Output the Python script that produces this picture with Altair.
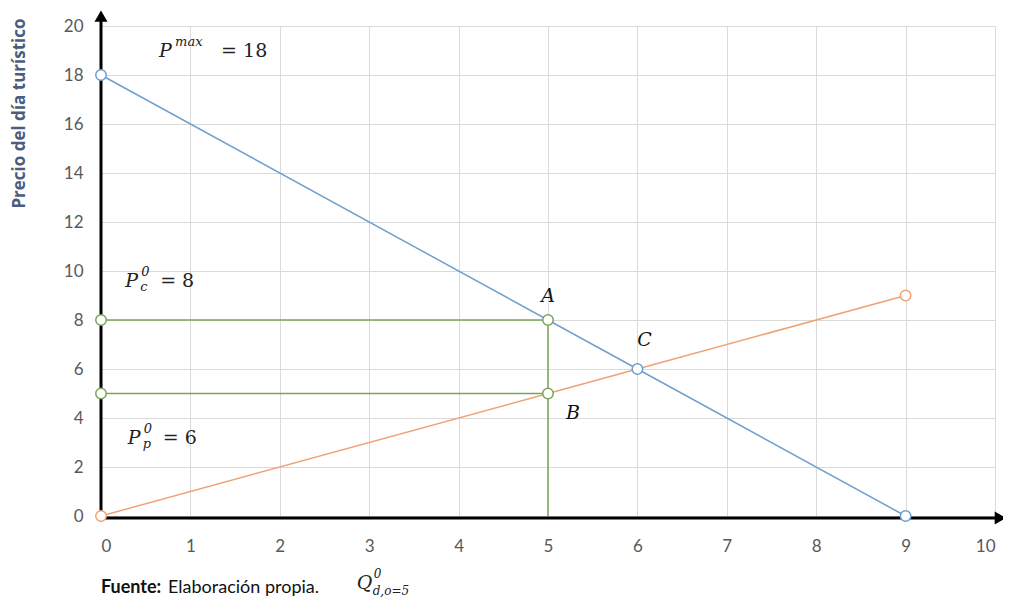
import altair as alt
import pandas as pd

# demand line (blue)
dem_x = [0, 6, 9]
dem_y = [18, 6, 0]
# supply line (orange)
sup_x = [0, 5, 6, 9]
sup_y = [0, 5, 6, 9]
# green guide segments
g_x = [0, 5]
g_y_top = [8, 8]
g_y_low = [5, 5]
v_x = [5, 5]
v_y = [0, 8]
# markers
dem_mx = [0, 6, 9]
dem_my = [18, 6, 0]
sup_mx = [0, 9]
sup_my = [0, 9]
grn_mx = [0, 5, 0, 5]
grn_my = [8, 8, 5, 5]

# point labels
lab_text = ["A", "B", "C"]
lab_x = [5.0, 5.28, 6.08]
lab_y = [9.0, 4.2, 7.2]

BLUE = "#6E9FCF"
ORANGE = "#EFA274"
GREEN = "#78A65A"

X = alt.X("x:Q", scale=alt.Scale(domain=[0, 10], nice=False),
          axis=alt.Axis(values=list(range(0, 11)), grid=True, gridColor="#DADADA",
                        domain=False, ticks=False, labelPadding=22, labelFontSize=17,
                        labelColor="#595959", labelFont="Lato", title=None))
Y = alt.Y("y:Q", scale=alt.Scale(domain=[0, 20], nice=False),
          axis=alt.Axis(values=list(range(0, 21, 2)), grid=True, gridColor="#DADADA",
                        domain=False, ticks=False, labelPadding=18, labelFontSize=17,
                        labelColor="#595959", labelFont="Lato",
                        title="Precio del día turístico", titleFont="Open Sans",
                        titleFontSize=17, titleFontWeight="bold", titleColor="#4A5D7E",
                        titleAnchor="end", titleX=-73, titleY=-8))

def line(xs, ys, color, width=1.5):
    df = pd.DataFrame({"x": xs, "y": ys, "o": list(range(len(xs)))})
    return alt.Chart(df).mark_line(color=color, strokeWidth=width).encode(
        x=X, y=Y, order="o:Q")

def pts(xs, ys, color):
    df = pd.DataFrame({"x": xs, "y": ys})
    return alt.Chart(df).mark_point(shape="circle", size=110, filled=True,
                                    fill="white", stroke=color, strokeWidth=1.5,
                                    opacity=1).encode(x=X, y=Y)

layers = [
    line(g_x, g_y_top, GREEN),
    line(g_x, g_y_low, GREEN),
    line(v_x, v_y, GREEN),
    line(sup_x, sup_y, ORANGE),
    line(dem_x, dem_y, BLUE),
]

# thick black axes with arrows
axes_df_v = pd.DataFrame({"x": [0, 0], "y": [0, 20.2], "o": [0, 1]})
axes_df_h = pd.DataFrame({"x": [0, 10.0], "y": [-0.08, -0.08], "o": [0, 1]})
layers.append(alt.Chart(axes_df_v).mark_line(color="black", strokeWidth=3).encode(x=X, y=Y, order="o:Q"))
layers.append(alt.Chart(axes_df_h).mark_line(color="black", strokeWidth=3).encode(x=X, y=Y, order="o:Q"))
layers.append(alt.Chart(pd.DataFrame({"x": [0], "y": [20.4]})).mark_point(
    shape="triangle-up", filled=True, color="black", size=170, opacity=1).encode(x=X, y=Y))
layers.append(alt.Chart(pd.DataFrame({"x": [10.06], "y": [-0.08]})).mark_point(
    shape="triangle-right", filled=True, color="black", size=170, opacity=1).encode(x=X, y=Y))

layers += [pts(grn_mx, grn_my, GREEN), pts(sup_mx, sup_my, ORANGE), pts(dem_mx, dem_my, BLUE)]

# letters
ldf = pd.DataFrame({"x": lab_x, "y": lab_y, "t": lab_text})
layers.append(alt.Chart(ldf).mark_text(font="DejaVu Serif", fontStyle="italic", fontSize=19,
                                       color="#111111").encode(x=X, y=Y, text="t:N"))

# math annotations (base letter, sup/sub, rest)
def ann(x, y, base, sup=None, sub=None, rest="", rest_dx=35, size=19, small=13,
        sup_dx=16, sub_dx=15, sub_dy=6):
    out = []
    df = pd.DataFrame({"x": [x], "y": [y], "t": [base]})
    out.append(alt.Chart(df).mark_text(font="DejaVu Serif", fontStyle="italic", fontSize=size,
                                       align="left", color="#222222").encode(x=X, y=Y, text="t:N"))
    if sup:
        out.append(alt.Chart(pd.DataFrame({"x": [x], "y": [y], "t": [sup]})).mark_text(
            font="DejaVu Serif", fontStyle="italic", fontSize=small, align="left", dx=sup_dx, dy=-9,
            color="#222222").encode(x=X, y=Y, text="t:N"))
    if sub:
        out.append(alt.Chart(pd.DataFrame({"x": [x], "y": [y], "t": [sub]})).mark_text(
            font="DejaVu Serif", fontStyle="italic", fontSize=small, align="left", dx=sub_dx, dy=sub_dy,
            color="#222222").encode(x=X, y=Y, text="t:N"))
    if rest:
        out.append(alt.Chart(pd.DataFrame({"x": [x], "y": [y], "t": [rest]})).mark_text(
            font="DejaVu Serif", fontSize=size, align="left", dx=rest_dx,
            color="#222222").encode(x=X, y=Y, text="t:N"))
    return out

layers += ann(0.65, 19.0, "P", sup="max", rest="= 18", rest_dx=62)
layers += ann(0.27, 9.6, "P", sup="0", sub="c", rest="= 8")
layers += ann(0.3, 3.2, "P", sup="0", sub="p", rest="= 6")
layers += ann(2.86, -2.75, "Q", sup="0", sub="d,o=5", small=12, sup_dx=17, sub_dx=16, sub_dy=8)

foot = pd.DataFrame({"x": [0.0], "y": [-2.94]})
layers.append(alt.Chart(foot).mark_text(text="Fuente:", font="Lato", fontWeight="bold",
                                        fontSize=18, align="left", color="#111111").encode(x=X, y=Y))
layers.append(alt.Chart(foot).mark_text(text="Elaboración propia.", font="Lato",
                                        fontSize=18, align="left", dx=67, color="#111111").encode(x=X, y=Y))

chart = alt.layer(*layers).properties(
    width=894, height=490,
    autosize=alt.AutoSizeParams(type="none"),
    padding={"left": 93, "top": 18, "right": 8, "bottom": 85},
).configure_view(stroke=None)

chart.save("out.html", embed_options={"renderer": "svg", "actions": False})
